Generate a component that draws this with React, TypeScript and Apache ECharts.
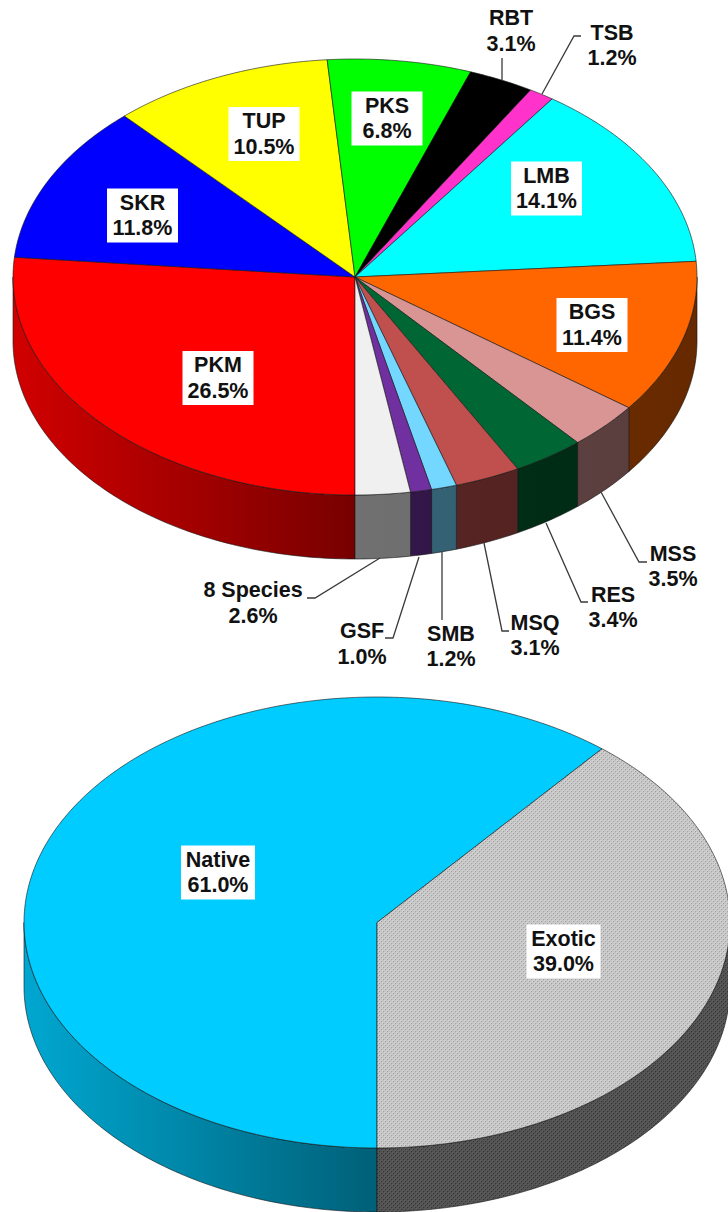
import React, { useEffect, useRef } from "react";
import * as echarts from "echarts";

const speciesNames = ["PKM", "SKR", "TUP", "PKS", "RBT", "TSB", "LMB", "BGS", "MSS", "RES", "MSQ", "SMB", "GSF", "8 Species"];
const speciesShares = [26.5, 11.8, 10.5, 6.8, 3.1, 1.2, 14.1, 11.4, 3.5, 3.4, 3.1, 1.2, 1.0, 2.6];
const speciesColors = ["#FF0000", "#0000FF", "#FFFF00", "#00FF00", "#000000", "#FF33CC", "#00FFFF", "#FF6600", "#D99594", "#006633", "#C0504D", "#73D7FF", "#7030A0", "#F0F0F0"];

const originNames = ["Native", "Exotic"];
const originShares = [61.0, 39.0];
const originColors = ["#00CCFF", "pattern"];

const WIDTH = 728;
const HEIGHT = 1212;
const FONT = 'bold 21.5px "Liberation Sans", Arial, sans-serif';
const TEXT_COLOR = "#111111";
const EDGE = "rgba(20,20,20,0.75)";

const topPie = { cx: 355, cy: 277, rx: 342, ry: 218, depth: 64 };
const bottomPie = { cx: 377, cy: 922.5, rx: 353, ry: 225.5, depth: 64 };

// label layout, by slice name: block centre; boxed labels sit on white rectangles
const boxedLabels: Record<string, number[]> = {
  PKM: [218, 378],
  SKR: [142.5, 215.5],
  TUP: [264, 134],
  PKS: [387, 118.5],
  LMB: [546.5, 188.5],
  BGS: [592, 325],
  Native: [218, 872.5],
  Exotic: [563.5, 951.5],
};
const freeLabels: Record<string, number[]> = {
  RBT: [511, 31],
  TSB: [612, 45.5],
  MSS: [673, 566.5],
  RES: [613, 607.5],
  MSQ: [535, 635.5],
  SMB: [451, 646.5],
  GSF: [362, 644],
  "8 Species": [253, 603],
};
const leaderLines: number[][][] = [
  [[502, 58], [502, 80]],
  [[581, 36], [574, 36], [542, 94]],
  [[647, 562], [639, 562], [601, 492]],
  [[588, 602], [581, 602], [546, 523]],
  [[509, 631], [502, 631], [484, 543]],
  [[442, 620], [442, 552]],
  [[385, 638], [393, 638], [419, 557]],
  [[307, 598], [315, 598], [380, 558]],
];

function makePattern(a: string, b: string, c: string) {
  const cv = document.createElement("canvas");
  cv.width = 4;
  cv.height = 4;
  const g = cv.getContext("2d")!;
  g.fillStyle = a;
  g.fillRect(0, 0, 4, 4);
  g.fillStyle = b;
  g.fillRect(0, 0, 2, 2);
  g.fillRect(2, 2, 2, 2);
  g.fillStyle = c;
  g.fillRect(1, 1, 1, 1);
  g.fillRect(3, 3, 1, 1);
  return cv;
}

function shade(hex: string, f: number) {
  const n = parseInt(hex.slice(1), 16);
  const r = Math.round(((n >> 16) & 255) * f);
  const g = Math.round(((n >> 8) & 255) * f);
  const b = Math.round((n & 255) * f);
  return `rgb(${r},${g},${b})`;
}

function wallFill(hex: string, pie: typeof topPie) {
  return {
    type: "linear",
    global: true,
    x: pie.cx - pie.rx,
    y: 0,
    x2: pie.cx + pie.rx,
    y2: 0,
    colorStops: [
      { offset: 0, color: shade(hex, 0.82) },
      { offset: 0.5, color: shade(hex, 0.47) },
      { offset: 1, color: shade(hex, 0.4) },
    ],
  };
}

// angle is measured clockwise from straight down, the way the slices run
function rim(pie: typeof topPie, a: number, dy = 0) {
  return [pie.cx - pie.rx * Math.sin(a), pie.cy + pie.ry * Math.cos(a) + dy];
}

function arcPoints(pie: typeof topPie, a0: number, a1: number, dy = 0) {
  const n = Math.max(2, Math.ceil(((a1 - a0) / (2 * Math.PI)) * 360));
  const pts: number[][] = [];
  for (let k = 0; k <= n; k++) pts.push(rim(pie, a0 + ((a1 - a0) * k) / n, dy));
  return pts;
}

function pieSeries(
  pie: typeof topPie,
  shares: number[],
  colors: string[],
  patterns: { top: any; wall: any } | null,
) {
  const total = shares.reduce((s, v) => s + v, 0);
  const starts: number[] = [];
  shares.reduce((s, v, i) => {
    starts[i] = s;
    return s + v;
  }, 0);
  return {
    type: "custom",
    coordinateSystem: "none",
    silent: true,
    clip: false,
    z: 2,
    data: shares.map((v) => [v]),
    renderItem: (params: any, api: any) => {
      const i = params.dataIndex;
      const value = api.value(0) as number;
      const a0 = (starts[i] / total) * 2 * Math.PI;
      const a1 = ((starts[i] + value) / total) * 2 * Math.PI;
      const color = colors[i];
      const usePattern = color === "pattern" && patterns;
      const children: any[] = [];
      // visible front wall: angles in [0, 90deg] and [270deg, 360deg]
      const spans = [
        [Math.max(a0, 0), Math.min(a1, Math.PI / 2)],
        [Math.max(a0, (3 * Math.PI) / 2), Math.min(a1, 2 * Math.PI)],
      ];
      spans.forEach(([s, e]) => {
        if (e <= s) return;
        const upper = arcPoints(pie, s, e);
        const lower = arcPoints(pie, s, e, pie.depth).reverse();
        children.push({
          type: "polygon",
          shape: { points: upper.concat(lower) },
          style: {
            fill: usePattern ? patterns!.wall : wallFill(color, pie),
            stroke: EDGE,
            lineWidth: 0.8,
          },
        });
      });
      const face = [[pie.cx, pie.cy]].concat(arcPoints(pie, a0, a1));
      children.push({
        type: "polygon",
        shape: { points: face },
        style: {
          fill: usePattern ? patterns!.top : color,
          stroke: EDGE,
          lineWidth: 0.8,
        },
      });
      return { type: "group", children };
    },
  };
}

function labelElements(names: string[], shares: number[]) {
  const out: any[] = [];
  names.forEach((name, i) => {
    const text = `${name}\n${shares[i].toFixed(1)}%`;
    const boxed = boxedLabels[name];
    const free = freeLabels[name];
    const pos = boxed || free;
    if (boxed) {
      const w = name === "Native" || name === "Exotic" ? 74 : 71;
      out.push({
        type: "rect",
        z: 100,
        shape: { x: pos[0] - w / 2, y: pos[1] - 27, width: w, height: 54 },
        style: { fill: "#FFFFFF" },
      });
    }
    out.push({
      type: "text",
      z: 101,
      x: pos[0],
      y: pos[1],
      style: {
        text,
        font: FONT,
        fill: TEXT_COLOR,
        align: "center",
        verticalAlign: "middle",
        lineHeight: 25.5,
      },
    });
  });
  return out;
}

export default function App() {
  const ref = useRef<HTMLDivElement>(null);
  useEffect(() => {
    document.body.style.margin = "0";
    const chart = echarts.init(ref.current!, undefined, { renderer: "svg" });
    const patterns = {
      top: { image: makePattern("#C4C4C4", "#D2D2D2", "#9C9C9C"), repeat: "repeat" },
      wall: { image: makePattern("#505050", "#5A5A5A", "#343434"), repeat: "repeat" },
    };
    chart.setOption({
      animation: false,
      backgroundColor: "#FFFFFF",
      series: [
        pieSeries(topPie, speciesShares, speciesColors, null),
        pieSeries(bottomPie, originShares, originColors, patterns),
      ],
      graphic: {
        z: 100,
        elements: [
          ...leaderLines.map((points) => ({
            type: "polyline",
            z: 99,
            shape: { points },
            style: { fill: "none", stroke: "#3A3A3A", lineWidth: 1.3 },
          })),
          ...labelElements(speciesNames, speciesShares),
          ...labelElements(originNames, originShares),
        ],
      },
    });
    return () => chart.dispose();
  }, []);
  return <div ref={ref} style={{ position: "absolute", left: 0, top: 0, width: WIDTH, height: HEIGHT }} />;
}
